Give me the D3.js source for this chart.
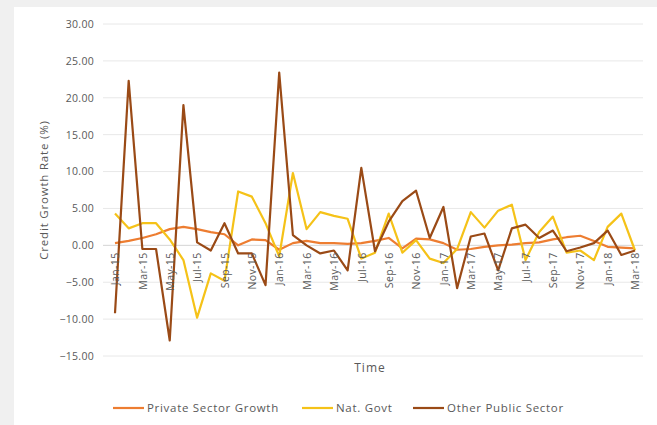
<!DOCTYPE html>
<html>
<head>
<meta charset="utf-8">
<script src="https://cdn.jsdelivr.net/npm/d3@7"></script>
<style>
  body { margin: 0; background: #f0f0f0; }
  #chart { width: 657px; height: 425px; }
  text { font-family: "Open Sans", sans-serif; fill: #595959; }
</style>
</head>
<body>
<div id="chart"></div>
<script>
// data
const months = ["Jan-15","Feb-15","Mar-15","Apr-15","May-15","Jun-15","Jul-15","Aug-15","Sep-15","Oct-15","Nov-15","Dec-15",
                "Jan-16","Feb-16","Mar-16","Apr-16","May-16","Jun-16","Jul-16","Aug-16","Sep-16","Oct-16","Nov-16","Dec-16",
                "Jan-17","Feb-17","Mar-17","Apr-17","May-17","Jun-17","Jul-17","Aug-17","Sep-17","Oct-17","Nov-17","Dec-17",
                "Jan-18","Feb-18","Mar-18"];
const tickLabels = ["Jan-15","Mar-15","May-15","Jul-15","Sep-15","Nov-15","Jan-16","Mar-16","May-16","Jul-16",
                    "Sep-16","Nov-16","Jan-17","Mar-17","May-17","Jul-17","Sep-17","Nov-17","Jan-18","Mar-18"];
const yTicks = [-15, -10, -5, 0, 5, 10, 15, 20, 25, 30];

const privateSector = [0.3, 0.6, 1.0, 1.5, 2.2, 2.5, 2.2, 1.8, 1.5, 0.0, 0.8, 0.7,
                       -0.6, 0.3, 0.6, 0.3, 0.3, 0.2, 0.3, 0.6, 1.0, -0.4, 0.9, 0.8,
                       0.3, -0.6, -0.5, -0.2, 0.0, 0.1, 0.3, 0.4, 0.8, 1.1, 1.3, 0.6,
                       -0.2, -0.3, -0.4];
const natGovt = [4.3, 2.3, 3.0, 3.0, 0.8, -2.0, -9.8, -3.8, -4.8, 7.3, 6.6, 3.0,
                 -1.5, 9.8, 2.2, 4.5, 4.0, 3.6, -1.8, -1.0, 4.3, -1.0, 0.7, -1.8,
                 -2.4, -0.5, 4.5, 2.4, 4.7, 5.5, -2.0, 1.8, 3.9, -1.0, -0.7, -2.0,
                 2.5, 4.3, -0.7];
const otherPublic = [-9.2, 22.3, -0.5, -0.5, -12.9, 19.0, 0.4, -0.7, 3.0, -1.1, -1.1, -5.4,
                     23.4, 1.4, 0.0, -1.1, -0.7, -3.4, 10.5, -0.8, 3.2, 6.0, 7.4, 1.0,
                     5.2, -5.8, 1.2, 1.6, -3.4, 2.3, 2.8, 1.0, 2.0, -0.8, -0.3, 0.3,
                     2.0, -1.3, -0.7];

const seriesNames = ["Private Sector Growth", "Nat. Govt", "Other Public Sector"];
const seriesColors = ["#ED7D31", "#F5C218", "#9A4A16"];
const series = [privateSector, natGovt, otherPublic];

const w = 657, h = 425;

let svg = d3.select("#chart").append("svg")
            .attr("width", w)
            .attr("height", h);

// white chart box
svg.append("rect")
   .attr("x", 14).attr("y", 7)
   .attr("width", w - 14).attr("height", h - 7)
   .attr("fill", "#ffffff");

let x = d3.scalePoint().domain(months).range([115, 635]);
let y = d3.scaleLinear().domain([-15, 30]).range([356, 24]);

// gridlines
svg.append("g")
   .selectAll("line")
   .data(yTicks)
   .enter().append("line")
   .attr("x1", 103).attr("x2", 643)
   .attr("y1", d => y(d)).attr("y2", d => y(d))
   .attr("stroke", d => d === 0 ? "#d4d4d4" : "#e8e8e8")
   .attr("stroke-width", 1);

// y axis labels
let yAxis = d3.axisLeft(y).tickValues(yTicks).tickSize(0).tickPadding(0)
              .tickFormat(d3.format(".2f"));
let gy = svg.append("g")
            .attr("transform", "translate(94,0)")
            .call(yAxis);
gy.select(".domain").remove();
gy.selectAll("text")
  .style("font-size", "10.5px")
  .style("letter-spacing", "0.3px")
  .attr("fill", "#6a6a6a");

// lines
let line = d3.line()
             .x((d, i) => x(months[i]))
             .y(d => y(d));

series.forEach((s, k) => {
  svg.append("path")
     .datum(s)
     .attr("fill", "none")
     .attr("stroke", seriesColors[k])
     .attr("stroke-width", 2.2)
     .attr("stroke-linejoin", "round")
     .attr("d", line);
});

// x tick labels, rotated, under the zero line
let xAxis = d3.axisBottom(x).tickValues(tickLabels).tickSize(0).tickPadding(0);
let gx = svg.append("g")
            .attr("transform", `translate(0, ${y(0)})`)
            .call(xAxis);
gx.select(".domain").remove();
gx.selectAll("text")
  .style("font-size", "10.5px")
  .style("letter-spacing", "0.4px")
  .attr("fill", "#595959")
  .attr("text-anchor", "end")
  .attr("dy", "0.35em")
  .attr("transform", "translate(0,7) rotate(-90)")
  .attr("x", 0).attr("y", 0);

// axis titles
svg.append("text")
   .attr("transform", "translate(48,190) rotate(-90)")
   .attr("text-anchor", "middle")
   .style("font-size", "11.5px")
   .style("letter-spacing", "0.8px")
   .text("Credit Growth Rate (%)");

svg.append("text")
   .attr("x", 370).attr("y", 372)
   .attr("text-anchor", "middle")
   .style("font-size", "12px")
   .style("letter-spacing", "1px")
   .text("Time");

// legend
const legendX = [113, 302, 413];
let legend = svg.append("g");
seriesNames.forEach((n, k) => {
  legend.append("line")
        .attr("x1", legendX[k]).attr("x2", legendX[k] + 31)
        .attr("y1", 408).attr("y2", 408)
        .attr("stroke", seriesColors[k])
        .attr("stroke-width", 2.2);
  legend.append("text")
        .attr("x", legendX[k] + 34).attr("y", 412)
        .style("font-size", "11.5px")
        .style("letter-spacing", "0.7px")
        .text(n);
});
</script>
</body>
</html>
